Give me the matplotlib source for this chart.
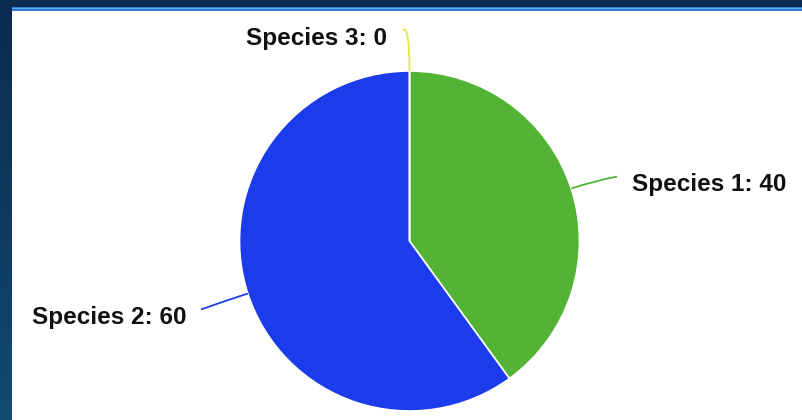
import numpy as np
import matplotlib.pyplot as plt
from matplotlib.path import Path
from matplotlib.patches import PathPatch, Rectangle
from matplotlib.colors import LinearSegmentedColormap

plt.rcParams['font.family'] = ['Liberation Sans', 'DejaVu Sans']

# data
species = ['Species 1', 'Species 2', 'Species 3']
counts = [40, 60, 0]
colors = ['#52b335', '#1c3cec', '#e8e83a']

W, H = 802, 420
fig = plt.figure(figsize=(W / 100, H / 100), dpi=100)

# navy frame behind the white panel
bg = fig.add_axes([0, 0, 1, 1])
bg.set_xlim(0, W)
bg.set_ylim(0, H)
bg.axis('off')
frame = LinearSegmentedColormap.from_list('frame', ['#114a72', '#0b2a4f'])
bg.imshow(np.linspace(0, 1, 100).reshape(-1, 1), cmap=frame, aspect='auto',
          extent=[0, W, 0, H], origin='lower')
bg.add_patch(Rectangle((12, H - 11), W - 12, 4, color='#2f7fcf', lw=0))
bg.add_patch(Rectangle((12, H - 9), W - 12, 1.5, color='#5aa6e8', lw=0))
bg.add_patch(Rectangle((12, 0), W - 12, H - 11, color='white', lw=0))

# pie in pixel units
ax = fig.add_axes([0, 0, 1, 1])
ax.set_xlim(0, W)
ax.set_ylim(0, H)
ax.set_aspect('equal')
ax.axis('off')

cx, cy, r = 409.5, H - 241, 170
wedges, _ = ax.pie(counts, colors=colors, startangle=90, counterclock=False,
                   center=(cx, cy), radius=r,
                   wedgeprops=dict(edgecolor='white', linewidth=1.2))
ax.set_xlim(0, W)
ax.set_ylim(0, H)

for w, name, n, col in zip(wedges, species, counts, colors):
    mid = np.deg2rad((w.theta1 + w.theta2) / 2)
    c, s = np.cos(mid), np.sin(mid)
    p0 = (cx + r * c, cy + r * s)
    right = c > 1e-6
    end = (cx + (r + 45) * c, cy + (r + 45) * s)
    if not right and abs(c) < 1e-6:
        # zero slice at the top: hook to the left
        ctrl = (end[0], end[1] + 2)
        end = (end[0] - 7, end[1] - 4)
    else:
        ctrl = (cx + (r + 25) * c, cy + (r + 25) * s)
        end = (end[0] + (3 if right else -4), end[1] - 2)
    path = Path([p0, ctrl, end], [Path.MOVETO, Path.CURVE3, Path.CURVE3])
    ax.add_patch(PathPatch(path, fc='none', ec=col, lw=1.3))
    tx = end[0] + (15 if right else -15)
    ax.text(tx, end[1] - 8, f'{name}: {n}', ha='left' if right else 'right',
            va='center', fontsize=17.5, fontweight='bold', color='#111111')

fig.savefig('out.png', dpi=100)
